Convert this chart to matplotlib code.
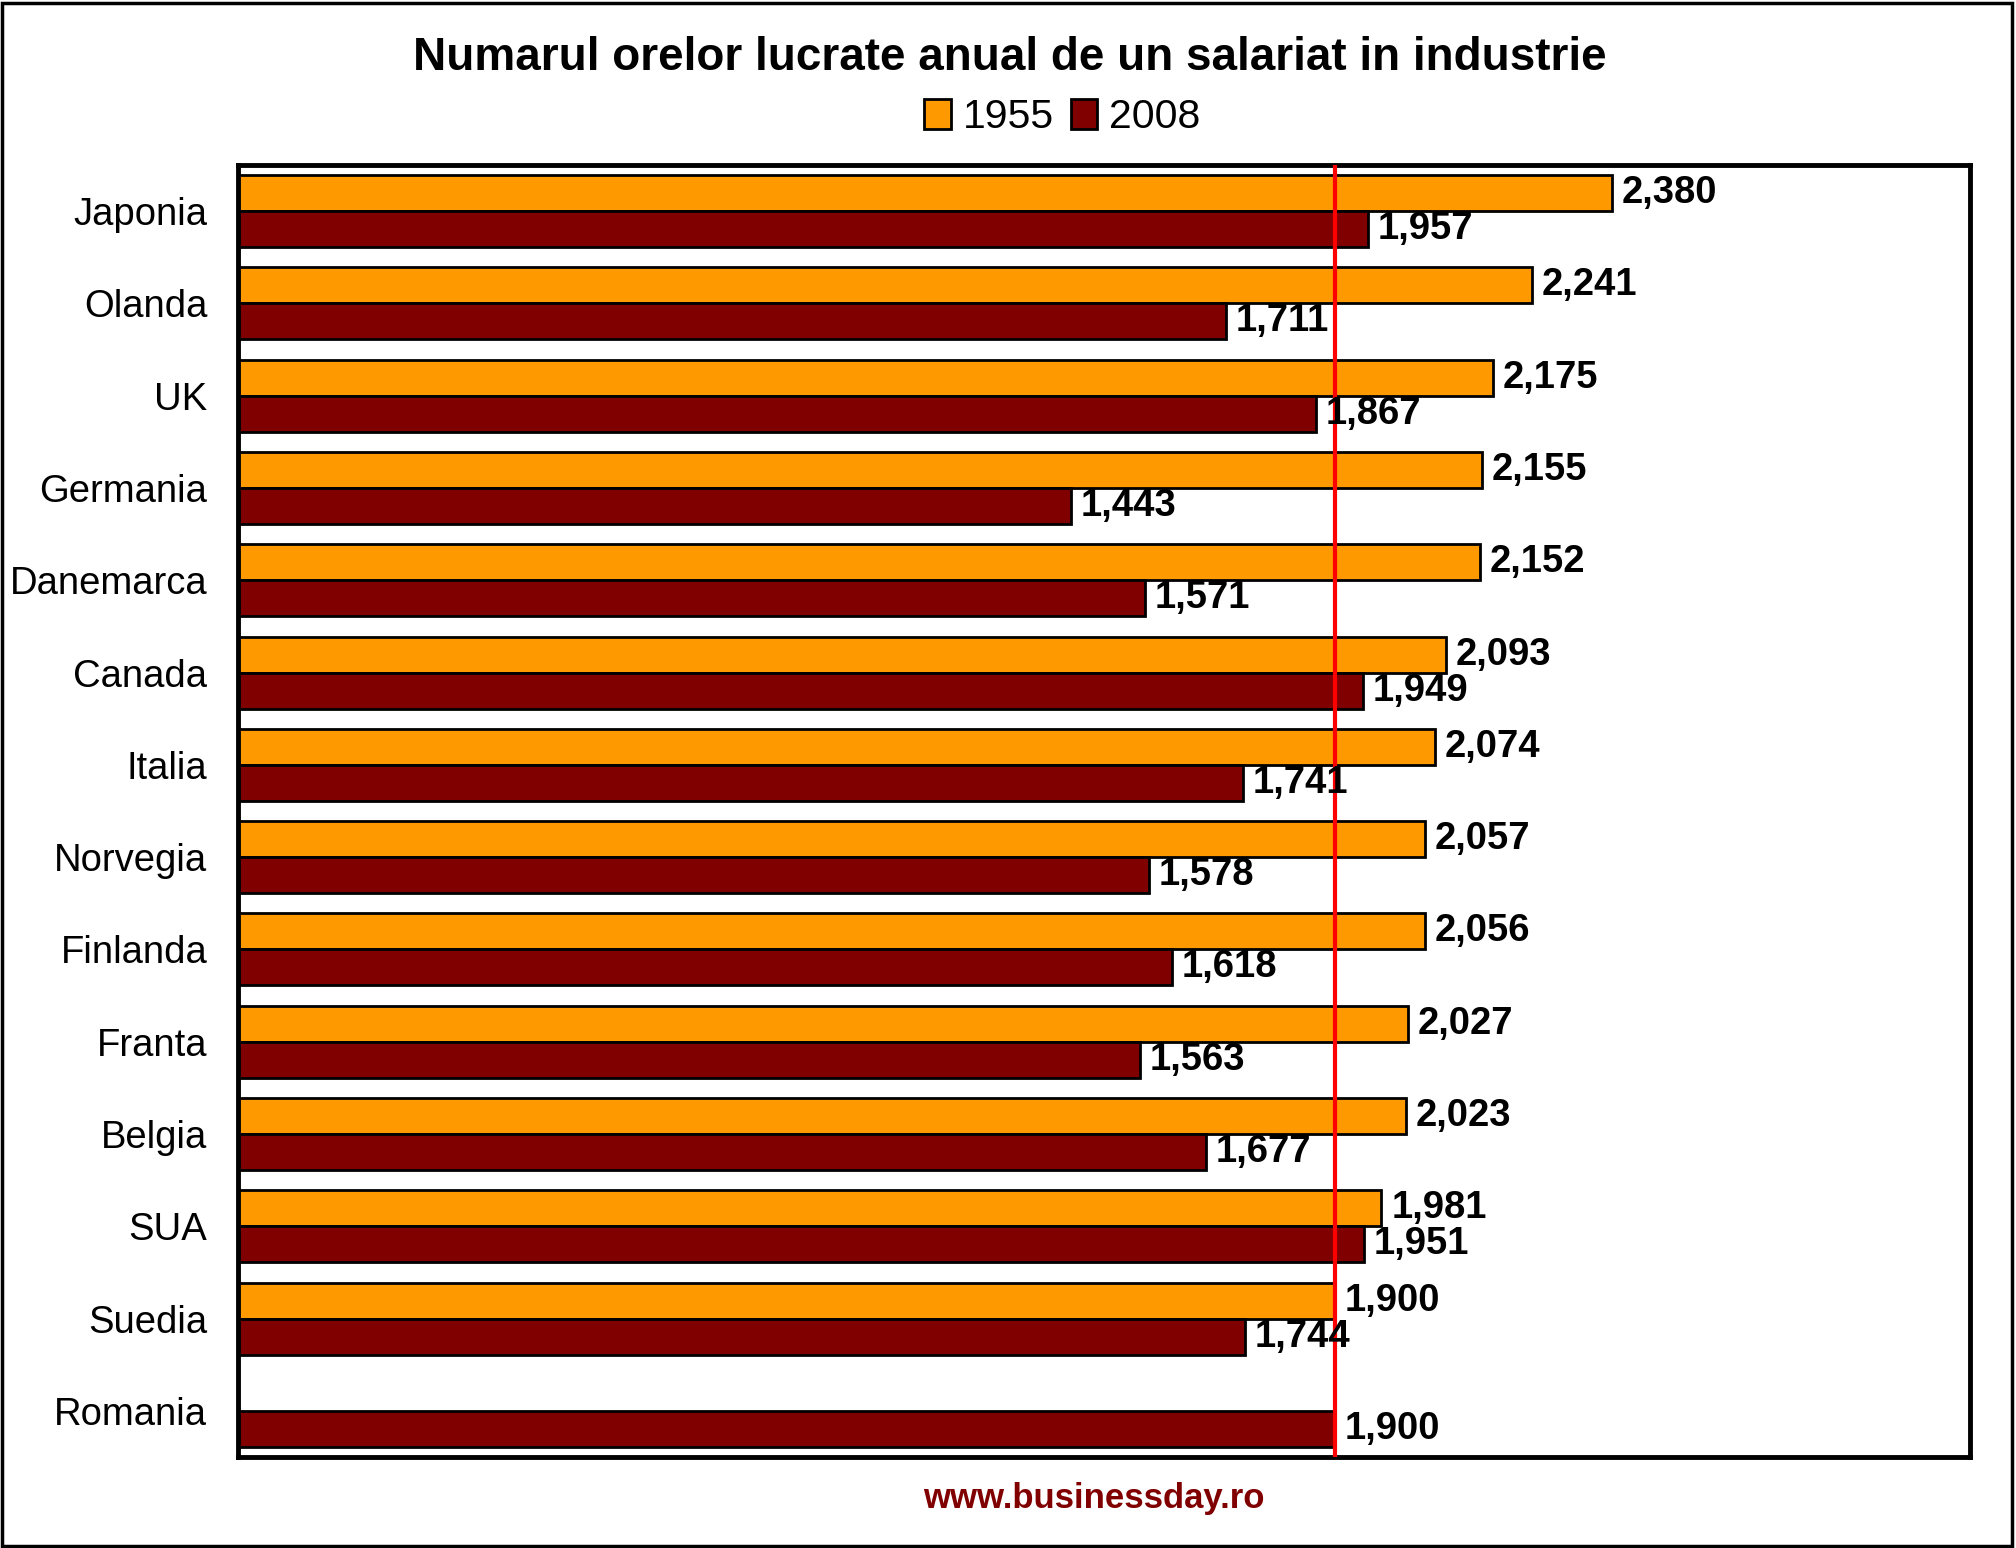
import matplotlib
matplotlib.use("Agg")
import matplotlib.pyplot as plt
import numpy as np
from matplotlib.patches import Rectangle, Patch

plt.rcParams["font.family"] = ["Liberation Sans", "DejaVu Sans"]

# data
countries = ['Japonia', 'Olanda', 'UK', 'Germania', 'Danemarca', 'Canada', 'Italia',
             'Norvegia', 'Finlanda', 'Franta', 'Belgia', 'SUA', 'Suedia', 'Romania']
hours_1955 = [2380, 2241, 2175, 2155, 2152, 2093, 2074, 2057, 2056, 2027, 2023, 1981, 1900, np.nan]
hours_2008 = [1957, 1711, 1867, 1443, 1571, 1949, 1741, 1578, 1618, 1563, 1677, 1951, 1744, 1900]
reference_line = 1900

orange = '#FF9900'
darkred = '#800000'

fig = plt.figure(figsize=(20.16, 15.48), dpi=100)
ax = fig.add_axes([0.118, 0.0588, 0.977 - 0.118, 0.8934 - 0.0588])

y = np.arange(len(countries))
h = 0.39
b1 = ax.barh(y - h / 2, hours_1955, height=h, color=orange, edgecolor='black', linewidth=2, zorder=2)
b2 = ax.barh(y + h / 2, hours_2008, height=h, color=darkred, edgecolor='black', linewidth=2, zorder=2)

# value labels
for bars, vals in ((b1, hours_1955), (b2, hours_2008)):
    for bar, v in zip(bars, vals):
        if np.isnan(v):
            continue
        ax.annotate(f"{v:,.0f}", (v, bar.get_y() + bar.get_height() / 2),
                    xytext=(7, 0), textcoords='offset points',
                    ha='left', va='center', fontsize=27.5, fontweight='bold', zorder=4)

ax.axvline(reference_line, color='red', linewidth=3, zorder=3)

ax.set_xlim(0, 3000)
ax.set_ylim(len(countries) - 0.5, -0.5)
ax.set_yticks(y)
ax.set_yticklabels(countries, fontsize=27.5)
ax.set_xticks([])
ax.tick_params(axis='y', length=0, pad=22)
for s in ax.spines.values():
    s.set_linewidth(3.5)
    s.set_color('black')

fig.text(0.501, 0.9625, 'Numarul orelor lucrate anual de un salariat in industrie',
         ha='center', va='center', fontsize=33, fontweight='bold')

handles = [Patch(facecolor=orange, edgecolor='black', linewidth=2),
           Patch(facecolor=darkred, edgecolor='black', linewidth=2)]
fig.legend(handles, ['1955', '2008'], loc='center', bbox_to_anchor=(0.527, 0.9244),
           ncol=2, frameon=False, fontsize=29.5, handlelength=0.65, handleheight=0.75,
           handletextpad=0.3, columnspacing=0.4)

fig.text(0.5427, 0.0317, 'www.businessday.ro', ha='center', va='center',
         fontsize=25, fontweight='bold', color=darkred)

# outer border of the chart area
fig.patches.append(Rectangle((0.001, 0.001), 0.997, 0.997, transform=fig.transFigure,
                             fill=False, edgecolor='black', linewidth=2.5))

fig.savefig('out.png', dpi=100)
